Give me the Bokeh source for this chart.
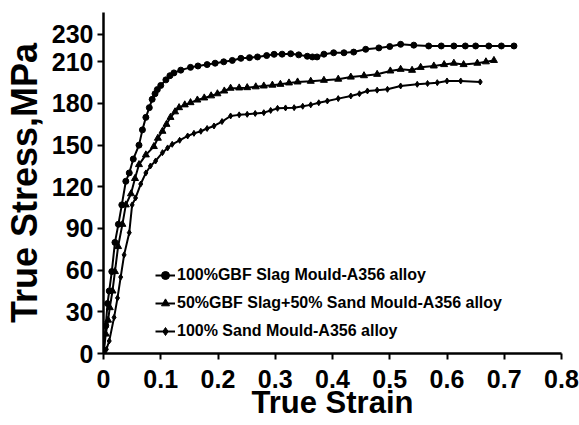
from bokeh.plotting import figure
from bokeh.models import Range1d, FixedTicker, Legend, LegendItem
from bokeh.embed import file_html
from bokeh.resources import INLINE

# ---- data ----
gbf_strain = [0, 0.004, 0.007, 0.010, 0.0145, 0.020, 0.026, 0.032, 0.039, 0.045, 0.052,
              0.062, 0.068, 0.074, 0.080, 0.085, 0.090, 0.094, 0.100, 0.109, 0.116, 0.123,
              0.135, 0.152, 0.165, 0.181, 0.195, 0.210, 0.225, 0.240, 0.255, 0.269, 0.285,
              0.298, 0.312, 0.327, 0.341, 0.356, 0.365, 0.373, 0.385, 0.402, 0.420, 0.437,
              0.458, 0.481, 0.500, 0.519, 0.542, 0.568, 0.590, 0.612, 0.632, 0.650, 0.673,
              0.695, 0.717]
gbf_stress = [0, 20, 36, 45, 59, 80, 93, 107, 124, 130, 140,
              150, 161, 170, 177, 183, 187, 190, 193, 197, 200, 202,
              204, 206, 207, 208, 209, 210, 211, 212.5, 213, 213.5, 214.5,
              215.4, 215.5, 215.8, 215, 214, 213.5, 213.5, 215.5, 216.5, 216.5, 217,
              219, 220, 221, 222.6, 222, 221.4, 221.4, 221.4, 221.4, 221.4, 221.4,
              221.4, 221.4]

mix_strain = [0, 0.004, 0.008, 0.011, 0.0157, 0.020, 0.0255, 0.033, 0.039, 0.048, 0.055,
              0.062, 0.074, 0.088, 0.095, 0.103, 0.110, 0.117, 0.125, 0.132, 0.142, 0.152,
              0.164, 0.176, 0.188, 0.199, 0.211, 0.222, 0.237, 0.251, 0.266, 0.280, 0.295,
              0.309, 0.324, 0.339, 0.362, 0.385, 0.410, 0.432, 0.455, 0.478, 0.501, 0.519,
              0.539, 0.554, 0.577, 0.595, 0.612, 0.629, 0.653, 0.668, 0.682]
mix_stress = [0, 14, 24, 33, 45, 59, 77, 93, 107, 115, 126,
              136, 143, 149, 155, 160, 165, 170, 174, 177, 179, 180.6,
              182.5, 184, 185.5, 187, 189, 191, 191.2, 191.4, 192, 192.6, 193.2,
              193.8, 194.8, 195.5, 196, 196.7, 197.5, 199, 200, 201, 203.4, 204.6,
              203.9, 206, 207, 208, 209, 208, 209, 210, 211]

sand_strain = [0, 0.005, 0.010, 0.0185, 0.0245, 0.030, 0.036, 0.045, 0.050, 0.056, 0.065,
               0.074, 0.082, 0.091, 0.103, 0.112, 0.120, 0.133, 0.147, 0.158, 0.170, 0.181,
               0.193, 0.207, 0.222, 0.237, 0.251, 0.265, 0.280, 0.292, 0.304, 0.318, 0.333,
               0.348, 0.362, 0.376, 0.391, 0.410, 0.432, 0.447, 0.461, 0.478, 0.496, 0.519,
               0.548, 0.566, 0.583, 0.600, 0.624, 0.658]
sand_stress = [0, 3, 9, 26, 40, 55, 71, 87, 107, 112, 122,
               130, 135, 138.6, 144.6, 148, 150.6, 153.5, 156.6, 158.5, 160, 162,
               163.8, 167, 171, 171.8, 172.2, 172.8, 173.4, 175, 176.5, 176.8, 177,
               178, 179, 180.5, 181.8, 183.5, 185.4, 187, 189, 189.6, 190.2, 192.6,
               193.8, 194.4, 195, 196.2, 196.2, 195.5]

series_labels = ["100%GBF Slag Mould-A356 alloy",
                 "50%GBF Slag+50% Sand Mould-A356 alloy",
                 "100% Sand Mould-A356 alloy"]
y_ticks = [0, 30, 60, 90, 120, 150, 180, 210, 230]
x_ticks = [0, 0.1, 0.2, 0.3, 0.4, 0.5, 0.6, 0.7, 0.8]
x_tick_labels = ["0", "0.1", "0.2", "0.3", "0.4", "0.5", "0.6", "0.7", "0.8"]

FONT = "Liberation Sans"

p = figure(width=579, height=425, output_backend="svg", toolbar_location=None,
           x_range=Range1d(0, 0.8), y_range=Range1d(0, 245.5),
           min_border_left=103, min_border_right=18, min_border_top=12, min_border_bottom=72)
p.outline_line_color = None
p.grid.visible = False
p.background_fill_color = "white"
p.border_fill_color = "white"

series = [
    (gbf_strain, gbf_stress, "circle", 6),
    (mix_strain, mix_stress, "triangle", 7),
    (sand_strain, sand_stress, "diamond", 6),
]
items = []
for (xs, ys, marker, size), lab in zip(series, series_labels):
    r1 = p.line(xs, ys, line_color="black", line_width=2)
    r2 = p.scatter(xs, ys, marker=marker, size=size, fill_color="black", line_color="black")
    items.append(LegendItem(label=lab, renderers=[r1, r2]))

legend = Legend(items=items, location=(52, 12), orientation="vertical",
                border_line_color=None, background_fill_alpha=0,
                label_text_font=FONT, label_text_font_style="bold", label_text_font_size="16px",
                label_text_color="black",
                label_height=20, glyph_height=20, glyph_width=20, spacing=8,
                padding=0, margin=0, label_standoff=2)
p.add_layout(legend, "center")

for ax in (p.xaxis[0], p.yaxis[0]):
    ax.axis_line_width = 2.5
    ax.axis_line_color = "black"
    ax.major_tick_line_width = 2
    ax.major_tick_out = 6
    ax.major_tick_in = 0
    ax.minor_tick_line_color = None
    ax.major_label_text_font = FONT
    ax.major_label_text_font_style = "bold"
    ax.major_label_text_font_size = "25px"
    ax.major_label_text_color = "black"
    ax.axis_label_text_font = FONT
    ax.axis_label_text_font_style = "bold"
    ax.axis_label_text_color = "black"

p.xaxis[0].ticker = FixedTicker(ticks=x_ticks)
p.xaxis[0].major_label_overrides = {t: l for t, l in zip(x_ticks, x_tick_labels)}
p.xaxis[0].major_label_standoff = 10
p.xaxis[0].axis_label = "True Strain"
p.xaxis[0].axis_label_text_font_size = "31px"
p.xaxis[0].axis_label_standoff = -6

p.yaxis[0].ticker = FixedTicker(ticks=y_ticks)
p.yaxis[0].major_label_standoff = 4
p.yaxis[0].axis_label = "True Stress,MPa"
p.yaxis[0].axis_label_text_font_size = "36px"
p.yaxis[0].axis_label_standoff = 4

open("out.html", "w").write(file_html(p, INLINE))
